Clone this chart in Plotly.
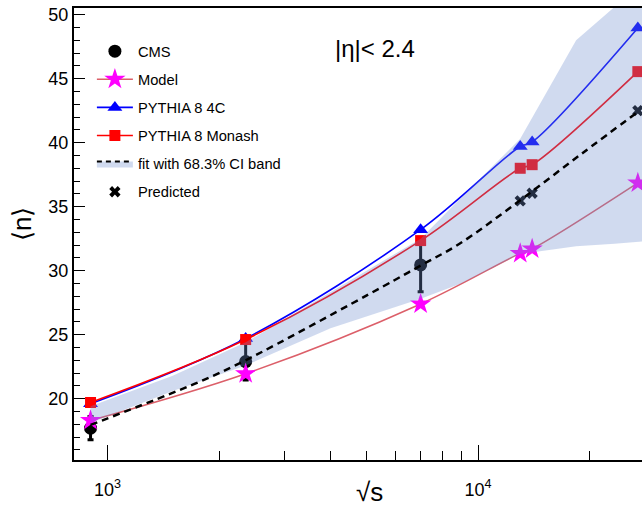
import plotly.graph_objects as go

# Centre-of-mass energies (GeV) and mean charged multiplicity for |eta| < 2.4
energy_cms = [900, 2360, 7000]
n_cms = [17.7, 22.9, 30.45]
err_cms = [0.9, 1.45, 2.1]

energy_mc = [900, 2360, 7000, 13000, 14000, 27000]
n_model = [18.3, 21.95, 27.4, 31.35, 31.7, 36.85]
n_4c = [19.6, 24.7, 33.2, 39.7, 40.05, 48.95]
n_monash = [19.7, 24.62, 32.35, 38.0, 38.28, 45.55]

energy_pred = [13000, 14000, 27000]
n_pred = [35.45, 36.05, 42.5]

# fitted curve and its 68.3% confidence band
energy_fit = [900, 1774, 2360, 5530, 7000, 8913, 13000, 19170, 27000]
n_fit = [17.95, 21.33, 23.0, 28.75, 30.4, 32.1, 35.5, 39.2, 42.4]

energy_band = [900, 1500, 2360, 4000, 7000, 9000, 13000, 18400, 23350, 28000]
band_hi = [19.4, 21.8, 24.4, 28.3, 32.5, 35.7, 40.3, 48.0, 50.6, 55.5]
band_lo = [18.1, 20.6, 22.6, 25.5, 27.8, 29.0, 31.3, 31.9, 32.1, 32.3]

x_ticks = [1000, 10000]
x_ticktext = ["10<sup>3</sup>", "10<sup>4</sup>"]
x_minor = [2000, 3000, 4000, 5000, 6000, 7000, 8000, 9000, 20000]

FONT = "Liberation Sans, Arial, Helvetica, sans-serif"
BAND = "rgba(110,140,205,0.32)"

fig = go.Figure()

fig.add_trace(go.Scatter(
    x=energy_cms, y=n_cms, mode="markers", name="CMS",
    legendgroup="a", legendrank=1,
    marker=dict(symbol="circle", size=13, color="black"),
    error_y=dict(type="data", array=err_cms, color="black", thickness=3, width=3),
))
fig.add_trace(go.Scatter(
    x=energy_mc, y=n_model, mode="lines+markers", name="Model",
    legendgroup="b", legendrank=2, line_shape="spline",
    line=dict(color="#dc5f69", width=1.5),
    marker=dict(symbol="star", size=16, color="#ff00ff"),
))
fig.add_trace(go.Scatter(
    x=energy_mc, y=n_4c, mode="lines+markers", name="PYTHIA 8 4C",
    legendgroup="c", legendrank=3, line_shape="spline",
    line=dict(color="#0000ff", width=1.6),
    marker=dict(symbol="triangle-up", size=13, color="#0000ff"),
))
fig.add_trace(go.Scatter(
    x=energy_mc, y=n_monash, mode="lines+markers", name="PYTHIA 8 Monash",
    legendgroup="d", legendrank=4, line_shape="spline",
    line=dict(color="#ff0000", width=1.6),
    marker=dict(symbol="square", size=11, color="#ff0000"),
))
fig.add_trace(go.Scatter(
    x=energy_pred, y=n_pred, mode="markers", name="Predicted",
    legendgroup="f", legendrank=6,
    marker=dict(symbol="x", size=10, color="black"),
))
# confidence band polygon (upper edge out, lower edge back)
fig.add_trace(go.Scatter(
    x=energy_band + energy_band[::-1], y=band_hi + band_lo[::-1],
    mode="lines", fill="toself", fillcolor=BAND,
    line=dict(width=0, color=BAND), showlegend=False, hoverinfo="skip",
))
fig.add_trace(go.Scatter(
    x=energy_fit, y=n_fit, mode="lines", line_shape="spline",
    line=dict(color="black", width=2.5, dash="7px,5px"),
    showlegend=False,
))
# legend entry for the fit together with its band
fig.add_trace(go.Scatter(
    x=[None], y=[None], mode="lines", name="fit with 68.3% CI band",
    legendgroup="e", legendrank=5, fill="toself", fillcolor=BAND,
    line=dict(color="black", width=2, dash="5px,4px"),
))

fig.update_layout(
    width=642, height=508,
    margin=dict(l=74, r=0, t=8, b=48),
    paper_bgcolor="white", plot_bgcolor="white",
    font=dict(family=FONT, color="black"),
    showlegend=True,
    legend=dict(
        x=0.0315, y=0.94, xanchor="left", yanchor="top",
        font=dict(size=14.7, family=FONT), bgcolor="rgba(0,0,0,0)",
        tracegroupgap=6, itemwidth=36, traceorder="grouped",
    ),
    xaxis=dict(
        type="log", range=[2.9096, 4.4426],
        showline=True, linecolor="black", linewidth=2, mirror=True,
        showgrid=False, zeroline=False,
        ticks="inside", ticklen=15, tickwidth=1.3, tickcolor="black",
        tickmode="array", tickvals=x_ticks, ticktext=x_ticktext,
        tickfont=dict(size=18, family=FONT), ticklabelstandoff=12,
        minor=dict(tickmode="array", tickvals=x_minor, ticks="inside",
                   ticklen=9, tickwidth=1.3, tickcolor="black", showgrid=False),
    ),
    yaxis=dict(
        range=[15.21, 50.52],
        showline=True, linecolor="black", linewidth=2, mirror=False,
        showgrid=False, zeroline=False,
        ticks="inside", ticklen=11, tickwidth=1.3, tickcolor="black",
        tickmode="linear", tick0=20, dtick=5,
        tickfont=dict(size=18, family=FONT),
        minor=dict(dtick=1, ticks="inside", ticklen=6, tickwidth=1.3,
                   tickcolor="black", showgrid=False),
    ),
    annotations=[
        dict(text="|η|< 2.4", xref="paper", yref="paper", x=0.53, y=0.911,
             xanchor="center", yanchor="middle",
             showarrow=False, font=dict(size=24, family=FONT)),
        dict(text="√s", xref="paper", yref="paper", x=0.521, y=-0.0708,
             xanchor="center", yanchor="middle",
             showarrow=False, font=dict(size=26, family=FONT)),
        dict(text="⟨n⟩", xref="paper", yref="paper", x=-0.0915, y=0.522,
             xanchor="center", yanchor="middle",
             textangle=-90, showarrow=False, font=dict(size=26, family=FONT)),
    ],
)

fig.write_html("out.html")
